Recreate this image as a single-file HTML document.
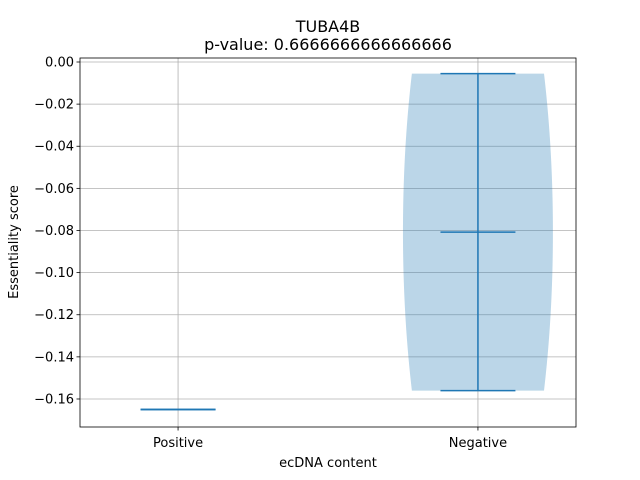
<!DOCTYPE html>
<html><head><meta charset="utf-8"><style>
html,body{margin:0;padding:0;background:#fff;}
svg{display:block;font-family:"DejaVu Sans","Liberation Sans",sans-serif;}
</style></head><body>
<svg id="chart" width="640" height="480" viewBox="0 0 640 480">
<rect x="0" y="0" width="640" height="480" fill="#fff"/>
<g id="grid"></g>
<g id="violins"></g>
<g id="axes"></g>
<text x="328" y="32" text-anchor="middle" font-size="16" fill="#000">TUBA4B</text>
<text x="328" y="50" text-anchor="middle" font-size="16" fill="#000">p-value: 0.6666666666666666</text>
<text x="328" y="467" text-anchor="middle" font-size="13" fill="#000">ecDNA content</text>
<text transform="translate(18,242) rotate(-90)" text-anchor="middle" font-size="13" fill="#000">Essentiality score</text>
</svg>
<script>
const categories = ["Positive", "Negative"];
const positiveValues = [-0.165];
const negativeValues = [-0.0055, -0.156];
const yTicks = [0.00, -0.02, -0.04, -0.06, -0.08, -0.10, -0.12, -0.14, -0.16];
const yTickLabels = ["0.00", "\u22120.02", "\u22120.04", "\u22120.06", "\u22120.08", "\u22120.10", "\u22120.12", "\u22120.14", "\u22120.16"];

const NS = "http://www.w3.org/2000/svg";
const L = 80, R = 576, T = 58, B = 427;
const xMin = 0.673, xMax = 2.327, yMin = -0.1733, yMax = 0.0019;
const xs = v => L + (v - xMin) / (xMax - xMin) * (R - L);
const ys = v => T + (yMax - v) / (yMax - yMin) * (B - T);
function mk(tag, attrs, parent) {
  const e = document.createElementNS(NS, tag);
  for (const k in attrs) e.setAttribute(k, attrs[k]);
  parent.appendChild(e);
  return e;
}
const grid = document.getElementById("grid");
const axes = document.getElementById("axes");
const vg = document.getElementById("violins");
const blue = "#1f77b4";

yTicks.forEach((t, i) => {
  const y = ys(t);
  const g = mk("line", {x1: L, x2: R, y1: y, y2: y, stroke: "#b0b0b0", "stroke-width": 0.8}, grid);
  
  
  mk("line", {x1: L - 3.5, x2: L, y1: y, y2: y, stroke: "#000", "stroke-width": 0.8}, axes);
  const tx = mk("text", {x: L - 6, y: y + 4.5, "text-anchor": "end", "font-size": 13, fill: "#000"}, axes);
  tx.textContent = yTickLabels[i];
  
  
});
categories.forEach((c, i) => {
  const x = xs(i + 1);
  const g = mk("line", {x1: x, x2: x, y1: T, y2: B, stroke: "#b0b0b0", "stroke-width": 0.8}, grid);
  
  
  mk("line", {x1: x, x2: x, y1: B, y2: B + 3.5, stroke: "#000", "stroke-width": 0.8}, axes);
  const tx = mk("text", {x: x, y: B + 20, "text-anchor": "middle", "font-size": 13, fill: "#000"}, axes);
  tx.textContent = c;
  
  
});
const frame = mk("rect", {x: L, y: T, width: R - L, height: B - T, fill: "none", stroke: "#000", "stroke-width": 0.8}, axes);



function violin(vals, pos, name) {
  const n = vals.length;
  const mn = Math.min(...vals), mx = Math.max(...vals);
  const sorted = [...vals].sort((a, b) => a - b);
  const med = n % 2 ? sorted[(n - 1) / 2] : (sorted[n / 2 - 1] + sorted[n / 2]) / 2;
  const hw = 0.25 * (R - L) / (xMax - xMin);
  const cx = xs(pos);
  if (n > 1) {
    const mean = vals.reduce((a, b) => a + b, 0) / n;
    const sd = Math.sqrt(vals.reduce((a, b) => a + (b - mean) ** 2, 0) / (n - 1));
    const bw = sd * Math.pow(n, -0.2);
    const pts = [];
    let maxD = 0;
    for (let k = 0; k <= 100; k++) {
      const v = mn + (mx - mn) * k / 100;
      let d = 0;
      vals.forEach(x => d += Math.exp(-0.5 * ((v - x) / bw) ** 2));
      pts.push([v, d]);
      if (d > maxD) maxD = d;
    }
    let p = "";
    pts.forEach(([v, d], k) => p += (k ? "L" : "M") + (cx + d / maxD * hw) + "," + ys(v));
    for (let k = pts.length - 1; k >= 0; k--) p += "L" + (cx - pts[k][1] / maxD * hw) + "," + ys(pts[k][0]);
    p += "Z";
    const body = mk("path", {d: p, fill: blue, "fill-opacity": 0.3}, vg);
    
    
  }
  const cw = hw / 2;
  const lines = [[cx, ys(mx), cx, ys(mn)], [cx - cw, ys(mx), cx + cw, ys(mx)], [cx - cw, ys(mn), cx + cw, ys(mn)], [cx - cw, ys(med), cx + cw, ys(med)]];
  lines.forEach((l, i) => {
    const e = mk("line", {x1: l[0], y1: l[1], x2: l[2], y2: l[3], stroke: blue, "stroke-width": 1.5}, vg);
    
    
  });
}
violin(positiveValues, 1, "positive");
violin(negativeValues, 2, "negative");
</script>
</body></html>
